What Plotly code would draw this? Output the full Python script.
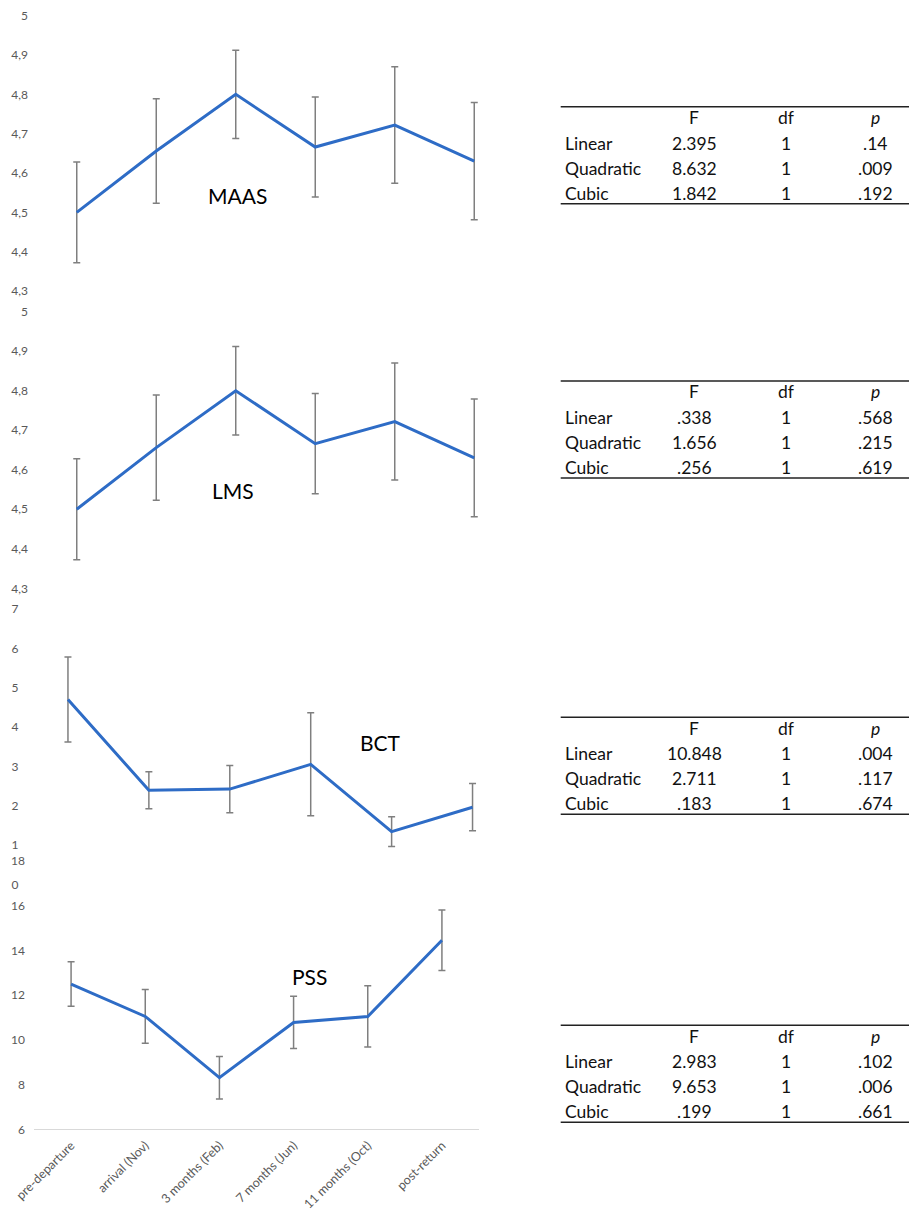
import plotly.graph_objects as go

W, H = 909, 1217

# ---------------- data ----------------
timepoints = ["pre-departure", "arrival (Nov)", "3 months (Feb)", "7 months (Jun)",
              "11 months (Oct)", "post-return"]

maas_mean = [4.50, 4.656, 4.80, 4.666, 4.722, 4.630]
maas_err = [0.128, 0.133, 0.112, 0.127, 0.148, 0.149]

lms_mean = [4.50, 4.656, 4.80, 4.666, 4.722, 4.630]
lms_err = [0.128, 0.133, 0.112, 0.127, 0.148, 0.149]

bct_mean = [4.70, 2.39, 2.42, 3.05, 1.34, 1.96]
bct_err = [1.08, 0.47, 0.60, 1.31, 0.38, 0.60]

pss_mean = [12.50, 11.05, 8.31, 10.78, 11.05, 14.46]
pss_err = [1.00, 1.20, 0.95, 1.17, 1.37, 1.35]

maas_ticks = [4.3, 4.4, 4.5, 4.6, 4.7, 4.8, 4.9, 5.0]
maas_ticktext = ["4,3", "4,4", "4,5", "4,6", "4,7", "4,8", "4,9", "5"]
bct_ticks = [0, 1, 2, 3, 4, 5, 6, 7]
pss_ticks = [6, 8, 10, 12, 14, 16, 18]

table_cols = ["F", "df", "p"]
table_rows = ["Linear", "Quadratic", "Cubic"]
maas_F = ["2.395", "8.632", "1.842"]
maas_df = ["1", "1", "1"]
maas_p = [".14", ".009", ".192"]
lms_F = [".338", "1.656", ".256"]
lms_df = ["1", "1", "1"]
lms_p = [".568", ".215", ".619"]
bct_F = ["10.848", "2.711", ".183"]
bct_df = ["1", "1", "1"]
bct_p = [".004", ".117", ".674"]
pss_F = ["2.983", "9.653", ".199"]
pss_df = ["1", "1", "1"]
pss_p = [".102", ".006", ".661"]

# ---------------- styling / layout ----------------
FONT = "Lato"
LINE_BLUE = "#2E6CC6"
ERR_GRAY = "#7F7F7F"
TICK_GRAY = "#595959"


def px(x):
    return x / W


def py(y):
    return 1 - y / H


panels = [
    ("MAAS", maas_mean, maas_err, (37, 514), (15.7, 291.0), [4.3, 5.0], maas_ticks, maas_ticktext, (237, 196)),
    ("LMS", lms_mean, lms_err, (37, 514), (311.7, 588.3), [4.3, 5.0], maas_ticks, maas_ticktext, (233, 490)),
    ("BCT", bct_mean, bct_err, (27.5, 513), (609.0, 884.3), [0, 7], bct_ticks, [str(t) for t in bct_ticks], (380, 742)),
    ("PSS", pss_mean, pss_err, (34, 479), (861.1, 1129.3), [6, 18], pss_ticks, [str(t) for t in pss_ticks], (309, 976)),
]

tables = [
    (maas_F, maas_df, maas_p, 106.7),
    (lms_F, lms_df, lms_p, 381.0),
    (bct_F, bct_df, bct_p, 717.3),
    (pss_F, pss_df, pss_p, 1025.3),
]

fig = go.Figure()
layout = dict(
    template="none",
    width=W, height=H,
    margin=dict(l=0, r=0, t=0, b=0, pad=0, autoexpand=False),
    paper_bgcolor="white", plot_bgcolor="white",
    showlegend=False,
    font=dict(family=FONT, color=TICK_GRAY),
)
annotations = []
shapes = []

for i, (name, mean, err, xd, yd, rng, tv, tt, lab) in enumerate(panels):
    n = "" if i == 0 else str(i + 1)
    fig.add_trace(go.Scatter(
        x=timepoints, y=mean,
        mode="lines",
        line=dict(color=LINE_BLUE, width=3),
        error_y=dict(type="data", array=err, visible=True, color=ERR_GRAY,
                     thickness=1.5, width=3.5),
        xaxis="x" + n, yaxis="y" + n,
        hoverinfo="skip",
    ))
    last = (i == len(panels) - 1)
    layout["xaxis" + n] = dict(
        domain=[px(xd[0]), px(xd[1])],
        anchor="y" + n,
        type="category",
        categoryorder="array", categoryarray=timepoints,
        range=[-0.5, 5.5],
        automargin=False,
        showgrid=False, zeroline=False,
        showline=last, linecolor="#D9D9D9", linewidth=1,
        ticks="",
        showticklabels=last,
        tickangle=-45,
        ticklabelstandoff=3,
        tickfont=dict(family=FONT, size=12.5, color=TICK_GRAY),
        fixedrange=True,
    )
    layout["yaxis" + n] = dict(
        domain=[py(yd[1]), py(yd[0])],
        anchor="x" + n,
        range=rng,
        tickvals=tv, ticktext=tt,
        automargin=False,
        showgrid=False, zeroline=False, showline=False,
        ticks="",
        ticklabelstandoff=8,
        tickfont=dict(family=FONT, size=12, color=TICK_GRAY),
        fixedrange=True,
    )
    annotations.append(dict(
        text=name, x=px(lab[0]), y=py(lab[1]), xref="paper", yref="paper",
        xanchor="center", yanchor="middle", showarrow=False,
        font=dict(family=FONT, size=21, color="#000000"),
    ))

# ---------------- tables ----------------
TX_LABEL = 562.7
TX_F = 694
TX_DF = 786
TX_P = 875
TBL_FONT = dict(family=FONT, size=17.5, color="#111111")

for F, df, p, top in tables:
    shapes.append(dict(type="line", xref="paper", yref="paper",
                       x0=px(560.7), x1=1.0, y0=py(top), y1=py(top),
                       line=dict(color="#222222", width=1.6)))
    shapes.append(dict(type="line", xref="paper", yref="paper",
                       x0=px(560.7), x1=1.0, y0=py(top + 97), y1=py(top + 97),
                       line=dict(color="#222222", width=1.6)))
    hy = top + 11
    for col, cx in zip(table_cols, [TX_F, TX_DF, TX_P]):
        txt = "<i>%s</i>" % col if col == "p" else col
        annotations.append(dict(text=txt, x=px(cx), y=py(hy), xref="paper", yref="paper",
                                xanchor="center", yanchor="middle", showarrow=False,
                                font=TBL_FONT))
    for r, rowname in enumerate(table_rows):
        ry = top + 36.6 + 25 * r
        annotations.append(dict(text=rowname, x=px(TX_LABEL), y=py(ry), xref="paper", yref="paper",
                                xanchor="left", yanchor="middle", showarrow=False, font=TBL_FONT))
        for val, cx in zip([F[r], df[r], p[r]], [TX_F, TX_DF, TX_P]):
            annotations.append(dict(text=val, x=px(cx), y=py(ry), xref="paper", yref="paper",
                                    xanchor="center", yanchor="middle", showarrow=False,
                                    font=TBL_FONT))

layout["annotations"] = annotations
layout["shapes"] = shapes
fig.update_layout(**layout)

fig.write_html(
    "out.html",
    config={"displayModeBar": False},
    post_script="document.body.style.margin='0';document.body.style.padding='0';"
                "document.body.style.overflow='hidden';"
                "document.documentElement.style.overflow='hidden';",
)
